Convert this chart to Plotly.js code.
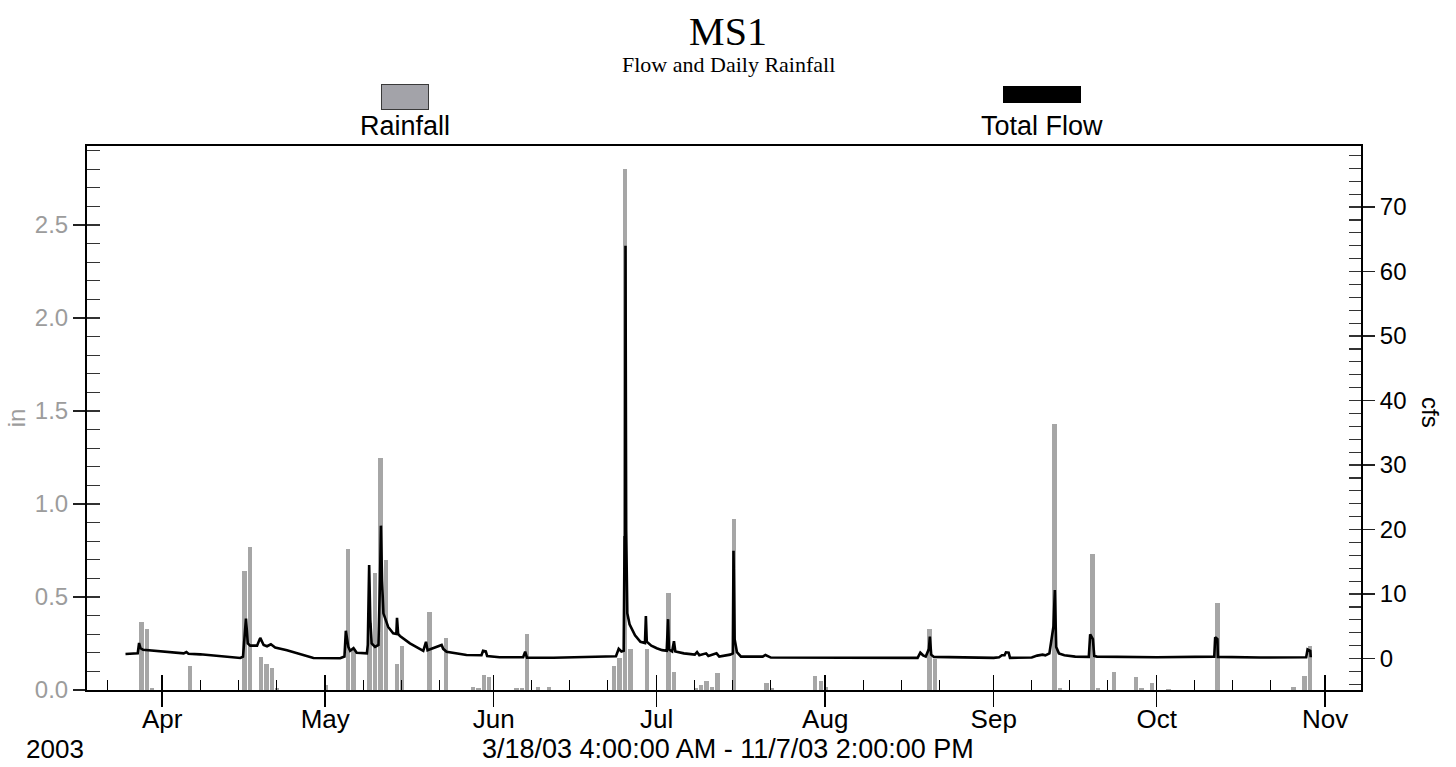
<!DOCTYPE html>
<html>
<head>
<meta charset="utf-8">
<script src="https://cdn.plot.ly/plotly-3.0.1.min.js"></script>
<style>
html,body{margin:0;padding:0;background:#fff;}
#chart{width:1456px;height:767px;}
</style>
</head>
<body>
<div id="chart"></div>
<script>
// ---------- DATA ----------
const rainDates = [
  "2003-03-28","2003-03-29","2003-03-30","2003-04-06","2003-04-16","2003-04-17",
  "2003-04-19","2003-04-20","2003-04-21","2003-04-22","2003-05-01","2003-05-05",
  "2003-05-06","2003-05-09","2003-05-10","2003-05-11","2003-05-12","2003-05-14",
  "2003-05-15","2003-05-20","2003-05-23","2003-05-28","2003-05-29","2003-05-30",
  "2003-05-31","2003-06-05","2003-06-06","2003-06-07","2003-06-09","2003-06-11",
  "2003-06-23","2003-06-24","2003-06-25","2003-06-26","2003-06-29","2003-07-03",
  "2003-07-04","2003-07-08","2003-07-09","2003-07-10","2003-07-11","2003-07-12",
  "2003-07-15","2003-07-21","2003-07-22","2003-07-30","2003-07-31","2003-08-01",
  "2003-08-20","2003-08-21","2003-09-12","2003-09-13","2003-09-19","2003-09-20",
  "2003-09-23","2003-09-27","2003-09-28","2003-09-30","2003-10-03","2003-10-12",
  "2003-10-26","2003-10-28","2003-10-29"
];
const rainInches = [
  0.367,0.328,0.01,0.129,0.64,0.77,
  0.177,0.14,0.117,0.01,0.027,0.758,
  0.219,0.36,0.63,1.25,0.70,0.14,
  0.238,0.42,0.281,0.018,0.01,0.079,
  0.07,0.01,0.01,0.30,0.015,0.015,
  0.13,0.17,2.80,0.22,0.22,0.52,
  0.097,0.01,0.027,0.048,0.018,0.09,
  0.92,0.04,0.01,0.077,0.048,0.018,
  0.328,0.167,1.43,0.01,0.731,0.01,
  0.097,0.068,0.01,0.04,0.005,0.47,
  0.018,0.077,0.237
];

const flowTimes = [
  "2003-03-25 06:00","2003-03-27 12:00","2003-03-27 18:00","2003-03-28 00:00","2003-03-28 12:00",
  "2003-04-01 22:00","2003-04-04 23:00","2003-04-05 11:00","2003-04-05 20:00","2003-04-08 00:00",
  "2003-04-11 02:00","2003-04-15 09:00","2003-04-15 21:00","2003-04-16 02:00","2003-04-16 10:00",
  "2003-04-16 18:00","2003-04-17 05:00","2003-04-18 11:00","2003-04-19 01:00","2003-04-19 16:00",
  "2003-04-20 07:00","2003-04-21 00:00","2003-04-21 19:00","2003-04-23 23:00","2003-04-26 10:00",
  "2003-04-28 20:00","2003-05-03 18:00","2003-05-04 13:00","2003-05-04 19:00","2003-05-05 01:00",
  "2003-05-05 06:00","2003-05-05 14:00","2003-05-06 05:00","2003-05-06 19:00","2003-05-08 16:00",
  "2003-05-08 20:00","2003-05-09 02:00","2003-05-09 07:00","2003-05-09 13:00","2003-05-10 04:00",
  "2003-05-10 19:00","2003-05-11 02:00","2003-05-11 06:00","2003-05-11 11:00","2003-05-11 17:00",
  "2003-05-12 14:00","2003-05-13 12:00","2003-05-14 02:00","2003-05-14 05:00","2003-05-14 10:00",
  "2003-05-14 18:00","2003-05-16 14:00","2003-05-19 01:00","2003-05-19 13:00","2003-05-19 20:00",
  "2003-05-22 10:00","2003-05-22 17:00","2003-05-23 08:00","2003-05-27 00:00","2003-05-29 18:00",
  "2003-05-30 01:00","2003-05-30 13:00","2003-05-30 19:00","2003-06-02 02:00","2003-06-06 10:00",
  "2003-06-06 19:00","2003-06-07 03:00","2003-06-12 00:00","2003-06-22 00:00","2003-06-23 12:00",
  "2003-06-24 00:00","2003-06-24 12:00","2003-06-24 22:00","2003-06-25 02:00","2003-06-25 04:00",
  "2003-06-25 06:00","2003-06-25 09:00","2003-06-25 14:00","2003-06-26 00:00","2003-06-27 00:00",
  "2003-06-28 00:00","2003-06-28 20:00","2003-06-29 00:00","2003-06-29 04:00","2003-06-30 00:00",
  "2003-07-01 00:00","2003-07-02 00:00","2003-07-02 20:00","2003-07-03 02:00","2003-07-03 06:00",
  "2003-07-03 20:00","2003-07-04 04:00","2003-07-04 10:00","2003-07-06 00:00","2003-07-08 00:00",
  "2003-07-08 10:00","2003-07-08 20:00","2003-07-10 02:00","2003-07-10 12:00","2003-07-12 00:00",
  "2003-07-12 12:00","2003-07-14 12:00","2003-07-15 00:00","2003-07-15 03:00","2003-07-15 08:00",
  "2003-07-15 18:00","2003-07-16 12:00","2003-07-20 12:00","2003-07-21 00:00","2003-07-22 00:00",
  "2003-08-05 00:00","2003-08-18 00:00","2003-08-18 12:00","2003-08-19 00:00","2003-08-19 12:00",
  "2003-08-20 02:00","2003-08-20 06:00","2003-08-20 12:00","2003-08-21 00:00","2003-08-28 12:00",
  "2003-09-01 00:00","2003-09-02 00:00","2003-09-02 12:00","2003-09-03 00:00","2003-09-03 06:00",
  "2003-09-03 18:00","2003-09-04 00:00","2003-09-08 00:00","2003-09-09 00:00","2003-09-10 00:00",
  "2003-09-10 12:00","2003-09-11 06:00","2003-09-11 18:00","2003-09-12 00:00","2003-09-12 06:00",
  "2003-09-12 12:00","2003-09-13 00:00","2003-09-14 00:00","2003-09-16 00:00","2003-09-18 12:00",
  "2003-09-18 18:00","2003-09-19 06:00","2003-09-19 12:00","2003-09-20 00:00","2003-10-01 00:00",
  "2003-10-11 14:00","2003-10-11 18:00","2003-10-12 04:00","2003-10-12 06:00","2003-10-20 00:00",
  "2003-10-28 12:00","2003-10-28 18:00","2003-10-29 06:00","2003-10-29 08:00"
];
const flowCfs = [
  0.7,0.8,2.4,1.6,1.35,
  1.05,0.8,1.0,0.75,0.65,
  0.4,0.08,0.3,2.6,6.2,
  2.35,2.0,2.0,3.2,2.1,
  1.9,2.2,1.7,1.3,0.7,
  0.08,0.05,0.3,4.3,2.9,
  1.8,1.2,1.6,0.9,0.8,
  2.1,14.5,6.0,2.35,1.8,
  2.1,12.2,20.6,12.0,7.0,
  4.9,3.9,3.8,6.3,3.8,
  3.5,2.35,1.2,2.6,1.3,
  2.1,1.5,1.05,0.54,0.5,
  1.2,1.1,0.4,0.19,0.19,
  1.05,0.12,0.12,0.3,0.35,
  1.5,1.1,1.2,19,14,
  64,20,7,5.3,3.6,
  2.6,2.4,6.6,2.6,2.0,
  1.6,1.3,1.2,6.1,1.4,
  1.1,2.7,1.1,0.8,0.6,
  1.0,0.5,0.8,0.4,0.8,
  0.3,0.6,0.8,16.7,3.0,
  1.0,0.3,0.3,0.55,0.15,
  0.12,0.1,0.9,0.5,0.3,
  1.5,3.4,0.6,0.25,0.1,
  0.1,0.2,0.5,0.5,0.96,
  0.9,0.1,0.15,0.45,0.6,
  0.5,0.8,3.8,5,10.6,
  1.8,0.8,0.5,0.3,0.25,
  3.75,3.0,0.4,0.3,0.2,
  0.3,3.3,3.0,0.25,0.15,
  0.2,1.4,1.2,0.2
];

const monthTicks = ["2003-04-01","2003-05-01","2003-06-01","2003-07-01","2003-08-01","2003-09-01","2003-10-01","2003-11-01"];
const monthLabels = ["Apr","May","Jun","Jul","Aug","Sep","Oct","Nov"];
const minorTicks = [
  "2003-03-22",
  "2003-04-08","2003-04-15","2003-04-22",
  "2003-05-08","2003-05-15","2003-05-22",
  "2003-06-08","2003-06-15","2003-06-22",
  "2003-07-08","2003-07-15","2003-07-22",
  "2003-08-08","2003-08-15","2003-08-22",
  "2003-09-08","2003-09-15","2003-09-22",
  "2003-10-08","2003-10-15","2003-10-22"
];

// ---------- LAYOUT ----------
const DAY = 86400000;
const xRange = ["2003-03-18 04:00","2003-11-07 14:00"];
const yLeftRange = [0, 2.925];
const yRightRange = [-4.88, 79.46];
const SANS = "Liberation Sans, Arial, Helvetica, sans-serif";
const SERIF = "Liberation Serif, Times New Roman, serif";

const rainTrace = {
  type: "bar", x: rainDates, y: rainInches, xaxis: "x", yaxis: "y",
  marker: {color: "#a6a6a6", line: {width: 0}},
  width: 0.8 * DAY, offset: -0.23 * DAY,
  name: "Rainfall", showlegend: false, hoverinfo: "x+y"
};
const flowTrace = {
  type: "scatter", mode: "lines", x: flowTimes, y: flowCfs, xaxis: "x2", yaxis: "y2",
  line: {color: "#000", width: 2.6},
  name: "Total Flow", showlegend: false
};
// transparent twins so that the tick-only overlay axes (inner tick marks) get drawn
const rainTickTwin = {
  type: "bar", x: rainDates, y: rainInches, xaxis: "x", yaxis: "y3",
  width: 0.8 * DAY, offset: -0.23 * DAY, opacity: 0, showlegend: false, hoverinfo: "skip"
};
const flowTickTwin = {
  type: "scatter", mode: "lines", x: flowTimes, y: flowCfs, xaxis: "x", yaxis: "y4",
  opacity: 0, showlegend: false, hoverinfo: "skip"
};

const W = 1274, H = 544, L = 87, T = 146;
function px(x){ return (x - L) / W; }
function py(y){ return (T + H - y) / H; }

const layout = {
  width: 1456, height: 767,
  margin: {l: L, r: 1456 - L - W, t: T, b: 767 - T - H, pad: 0},
  paper_bgcolor: "#fff", plot_bgcolor: "#fff",
  showlegend: false,
  bargap: 0, barmode: "overlay",
  title: {text: "MS1", font: {family: SERIF, size: 40, color: "#000"},
          x: 0.5, xref: "container", xanchor: "center",
          y: 1 - 31/767, yref: "container", yanchor: "middle"},
  xaxis: {
    type: "date", range: xRange, tickmode: "array", tickvals: monthTicks, ticktext: monthLabels,
    ticks: "outside", ticklen: 15, tickwidth: 1.5, tickcolor: "#000", ticklabelstandoff: -10,
    tickfont: {family: SANS, size: 26, color: "#000"},
    showline: true, linecolor: "#000", linewidth: 2, mirror: true,
    showgrid: false, zeroline: false, fixedrange: true
  },
  xaxis2: {
    type: "date", range: xRange, overlaying: "x", anchor: "y",
    tickmode: "array", tickvals: monthTicks, showticklabels: false,
    ticks: "inside", ticklen: 15, tickwidth: 1.5, tickcolor: "#000",
    minor: {tickmode: "array", tickvals: minorTicks, ticks: "inside", ticklen: 10, tickwidth: 1.2, tickcolor: "#000"},
    showline: false, showgrid: false, zeroline: false, fixedrange: true
  },
  yaxis: {
    range: yLeftRange, tick0: 0, dtick: 0.5, tickformat: ".1f",
    ticks: "outside", ticklen: 12, tickwidth: 1.2, tickcolor: "#222",
    tickfont: {family: SANS, size: 24, color: "#9c9c9c"},
    title: {text: "in", font: {family: SANS, size: 24, color: "#9c9c9c"}, standoff: 2},
    showline: true, linecolor: "#000", linewidth: 2,
    showgrid: false, zeroline: false, fixedrange: true
  },
  yaxis3: {
    range: yLeftRange, overlaying: "y", side: "left", anchor: "x",
    tick0: 0, dtick: 0.1, ticks: "inside", ticklen: 13, tickwidth: 1.2, tickcolor: "#333",
    showticklabels: false, showline: false, showgrid: false, zeroline: false, fixedrange: true
  },
  yaxis2: {
    range: yRightRange, overlaying: "y", side: "right", anchor: "x2",
    tick0: 0, dtick: 10,
    ticks: "outside", ticklen: 12, tickwidth: 1.2, tickcolor: "#222",
    tickfont: {family: SANS, size: 24, color: "#000"},
    showline: true, linecolor: "#000", linewidth: 2,
    showgrid: false, zeroline: false, fixedrange: true
  },
  yaxis4: {
    range: yRightRange, overlaying: "y", side: "right", anchor: "x",
    tick0: 0, dtick: 2, ticks: "inside", ticklen: 12, tickwidth: 1.2, tickcolor: "#333",
    showticklabels: false, showline: false, showgrid: false, zeroline: false, fixedrange: true
  },
  annotations: [
    {text: "Flow and Daily Rainfall", xref: "paper", yref: "paper", x: px(728), y: py(64),
     xanchor: "center", yanchor: "middle", showarrow: false,
     font: {family: SERIF, size: 22, color: "#000"}},
    {text: " ", xref: "paper", yref: "paper", x: px(405), y: py(97), xanchor: "center", yanchor: "middle",
     showarrow: false, width: 46, height: 24, bgcolor: "#a3a3a9", bordercolor: "#3a3a3a", borderwidth: 1, borderpad: 0,
     font: {size: 4}},
    {text: "Rainfall", xref: "paper", yref: "paper", x: px(405), y: py(126), xanchor: "center", yanchor: "middle",
     showarrow: false, font: {family: SANS, size: 27, color: "#000"}},
    {text: " ", xref: "paper", yref: "paper", x: px(1042), y: py(94.5), xanchor: "center", yanchor: "middle",
     showarrow: false, width: 78, height: 17, bgcolor: "#000", borderwidth: 0, borderpad: 0,
     font: {size: 4}},
    {text: "Total Flow", xref: "paper", yref: "paper", x: px(1042), y: py(126), xanchor: "center", yanchor: "middle",
     showarrow: false, font: {family: SANS, size: 27, color: "#000"}},
    {text: "cfs", xref: "paper", yref: "paper", x: px(1431), y: py(412), xanchor: "center", yanchor: "middle",
     textangle: 90, showarrow: false, font: {family: SANS, size: 24, color: "#000"}},
    {text: "2003", xref: "paper", yref: "paper", x: px(24), y: py(749), xanchor: "left", yanchor: "middle",
     showarrow: false, font: {family: SANS, size: 26, color: "#000"}},
    {text: "3/18/03 4:00:00 AM - 11/7/03 2:00:00 PM", xref: "paper", yref: "paper", x: px(728), y: py(749),
     xanchor: "center", yanchor: "middle", showarrow: false, font: {family: SANS, size: 27, color: "#000"}}
  ]
};

Plotly.newPlot("chart", [rainTickTwin, flowTickTwin, rainTrace, flowTrace], layout, {displayModeBar: false, staticPlot: true});
</script>
</body>
</html>
